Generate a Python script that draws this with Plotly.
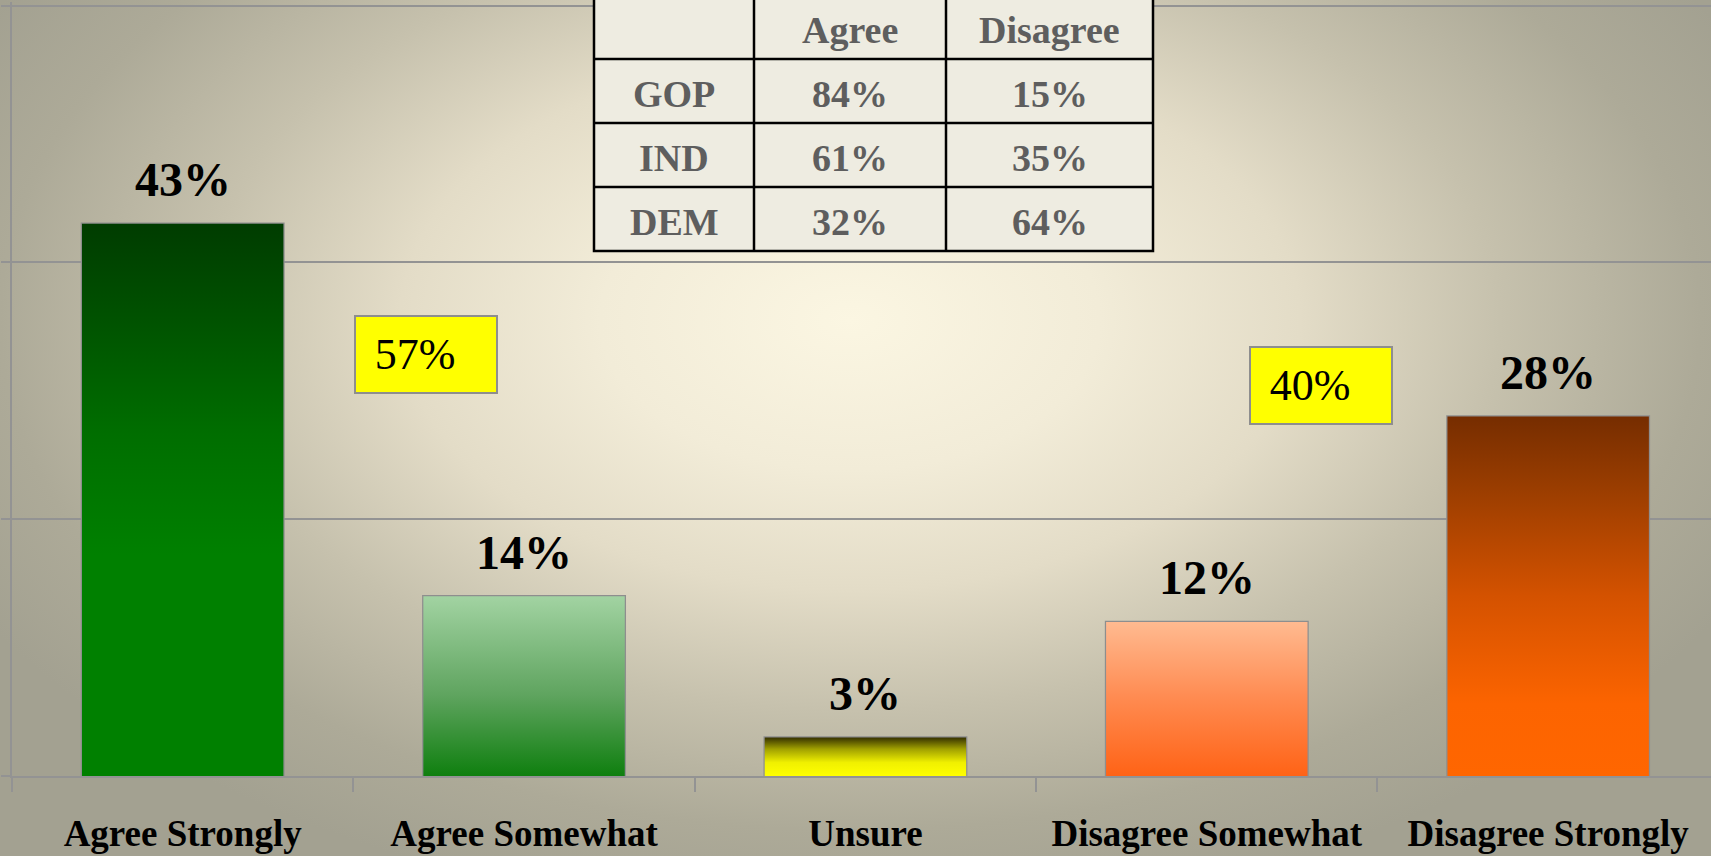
import base64
import plotly.graph_objects as go

# ---------------- data ----------------
categories = ["Agree Strongly", "Agree Somewhat", "Unsure", "Disagree Somewhat", "Disagree Strongly"]
values = [43, 14, 3, 12, 28]
combined_labels = ["57%", "40%"]

table_header = ["", "Agree", "Disagree"]
table_parties = ["GOP", "IND", "DEM"]
table_agree = ["84%", "61%", "32%"]
table_disagree = ["15%", "35%", "64%"]

# ---------------- styles ----------------
W, H = 1711, 856
FONT = "Liberation Serif"
GRID = "#939393"
bar_width = 0.59
x_range = [-0.5, 4.477]
y_range = [0, 60.3]
plot_left, plot_bottom_px, plot_top_px = 12, 80, 1.65

colorscales = [
    [[0, "#008000"], [0.4, "#008000"], [0.62, "#006E00"], [0.82, "#005300"], [1, "#003C00"]],
    [[0, "#0F7F0F"], [0.45, "#5FA45F"], [1, "#A2D3A2"]],
    [[0, "#FFFF00"], [0.35, "#F0F000"], [0.7, "#A0A000"], [1, "#363200"]],
    [[0, "#FF6316"], [0.5, "#FF8A50"], [1, "#FFBA90"]],
    [[0, "#FF6600"], [0.2, "#FC6400"], [0.5, "#D45200"], [0.8, "#9A3D00"], [1, "#762D00"]],
]
box_x = [0.713, 3.334]
box_y = [32.8, 30.4]

# table geometry in page pixels (styling/layout only)
tab_cols_px = [594, 754, 946, 1153]
tab_rows_px = [-5, 59, 123, 187, 251]
TAB_FILL = "#EEECE1"
TAB_TEXT = "#5E5E5E"

# background radial gradient (styling only)
svg = f'''<svg xmlns="http://www.w3.org/2000/svg" width="{W}" height="{H}" viewBox="0 0 {W} {H}" preserveAspectRatio="none">
<defs><radialGradient id="g" gradientUnits="userSpaceOnUse" cx="850" cy="320" r="1000"
 gradientTransform="translate(850 320) scale(1 0.6) translate(-850 -320)">
<stop offset="0" stop-color="#FBF6E2"/>
<stop offset="0.25" stop-color="#F2ECD8"/>
<stop offset="0.45" stop-color="#E3DCC7"/>
<stop offset="0.65" stop-color="#C6C1AD"/>
<stop offset="0.85" stop-color="#ADAA98"/>
<stop offset="1" stop-color="#A3A191"/>
</radialGradient></defs>
<rect x="0" y="0" width="{W}" height="{H}" fill="url(#g)"/></svg>'''
bg_src = "data:image/svg+xml;base64," + base64.b64encode(svg.encode()).decode()


def px_x(p):
    return p / W


def px_y(p):
    return 1 - p / H


fig = go.Figure()
xs = list(range(len(categories)))

# bars (outline) drawn with the bar trace
fig.add_trace(go.Bar(
    x=xs, y=values, width=bar_width,
    marker=dict(color="rgba(0,0,0,0)", line=dict(color="#8E8E8E", width=2.5)),
    hoverinfo="skip", showlegend=False,
))

# gradient fills for each bar
for i, (v, cs) in enumerate(zip(values, colorscales)):
    x0, x1 = i - bar_width / 2, i + bar_width / 2
    fig.add_trace(go.Scatter(
        x=[x0, x0, x1, x1, x0], y=[0, v, v, 0, 0],
        mode="lines", line=dict(width=0), fill="toself",
        fillgradient=dict(type="vertical", colorscale=cs),
        hoverinfo="skip", showlegend=False,
    ))

# value labels
for i, v in enumerate(values):
    fig.add_annotation(
        x=i, y=v, text=f"{v}%", showarrow=False, yanchor="middle", yshift=44,
        font=dict(family=FONT, size=48, color="black", weight="bold"),
    )

# yellow summary boxes
for bx, by, t in zip(box_x, box_y, combined_labels):
    fig.add_annotation(
        x=bx, y=by, text=t + "&nbsp;&nbsp;", showarrow=False, xanchor="center", yanchor="middle",
        font=dict(family=FONT, size=44, color="black"),
        bgcolor="#FFFF00", bordercolor="#8E8E8E", borderwidth=2, borderpad=2,
        width=136, height=71, align="center",
    )

# table: cell background + grid lines
shapes = [dict(type="rect", xref="paper", yref="paper",
               x0=px_x(tab_cols_px[0]), x1=px_x(tab_cols_px[-1]),
               y0=px_y(tab_rows_px[-1]), y1=px_y(tab_rows_px[0]),
               fillcolor=TAB_FILL, line=dict(color="black", width=2.5), layer="above")]
for r in tab_rows_px[1:-1]:
    shapes.append(dict(type="line", xref="paper", yref="paper",
                       x0=px_x(tab_cols_px[0]), x1=px_x(tab_cols_px[-1]), y0=px_y(r), y1=px_y(r),
                       line=dict(color="black", width=2.5), layer="above"))
for c in tab_cols_px[1:-1]:
    shapes.append(dict(type="line", xref="paper", yref="paper",
                       x0=px_x(c), x1=px_x(c), y0=px_y(tab_rows_px[-1]), y1=px_y(tab_rows_px[0]),
                       line=dict(color="black", width=2.5), layer="above"))

table_columns = [[table_header[0]] + table_parties,
                 [table_header[1]] + table_agree,
                 [table_header[2]] + table_disagree]
for ci, col in enumerate(table_columns):
    cx = (tab_cols_px[ci] + tab_cols_px[ci + 1]) / 2
    for ri, txt in enumerate(col):
        if not txt:
            continue
        cy = (tab_rows_px[ri] + tab_rows_px[ri + 1]) / 2 + 3
        fig.add_annotation(
            xref="paper", yref="paper", x=px_x(cx), y=px_y(cy), text=txt, showarrow=False,
            xanchor="center", yanchor="middle",
            font=dict(family=FONT, size=38, color=TAB_TEXT, weight="bold"),
        )

fig.update_layout(
    width=W, height=H,
    margin=dict(l=0, r=0, t=0, b=0),
    paper_bgcolor="rgba(0,0,0,0)", plot_bgcolor="rgba(0,0,0,0)",
    showlegend=False, hovermode=False,
    shapes=shapes,
    images=[dict(source=bg_src, xref="paper", yref="paper", x=0, y=1, sizex=1, sizey=1,
                 xanchor="left", yanchor="top", sizing="stretch", layer="below")],
    xaxis=dict(
        domain=[plot_left / W, 1], range=x_range, showgrid=False, zeroline=False,
        showline=True, linecolor=GRID, linewidth=2,
        tickmode="array", tickvals=xs, ticktext=categories, ticks="",
        tickfont=dict(family=FONT, size=37, color="black", weight="bold"),
        ticklabelstandoff=24,
        minor=dict(tickmode="array", tickvals=[i - 0.5 for i in range(len(categories) + 1)],
                   ticks="outside", ticklen=14, tickcolor=GRID, tickwidth=2, showgrid=False),
        fixedrange=True,
    ),
    yaxis=dict(
        domain=[plot_bottom_px / H, 1 - plot_top_px / H], range=y_range,
        tickmode="linear", tick0=0, dtick=20, showticklabels=False,
        ticks="outside", ticklen=9, tickcolor=GRID, tickwidth=2,
        showgrid=True, gridcolor=GRID, gridwidth=2, zeroline=False,
        showline=True, linecolor=GRID, linewidth=2, fixedrange=True,
    ),
)

fig.write_html(
    "out.html",
    config={"displayModeBar": False},
    post_script="document.body.style.margin='0';document.body.style.overflow='hidden';",
)
